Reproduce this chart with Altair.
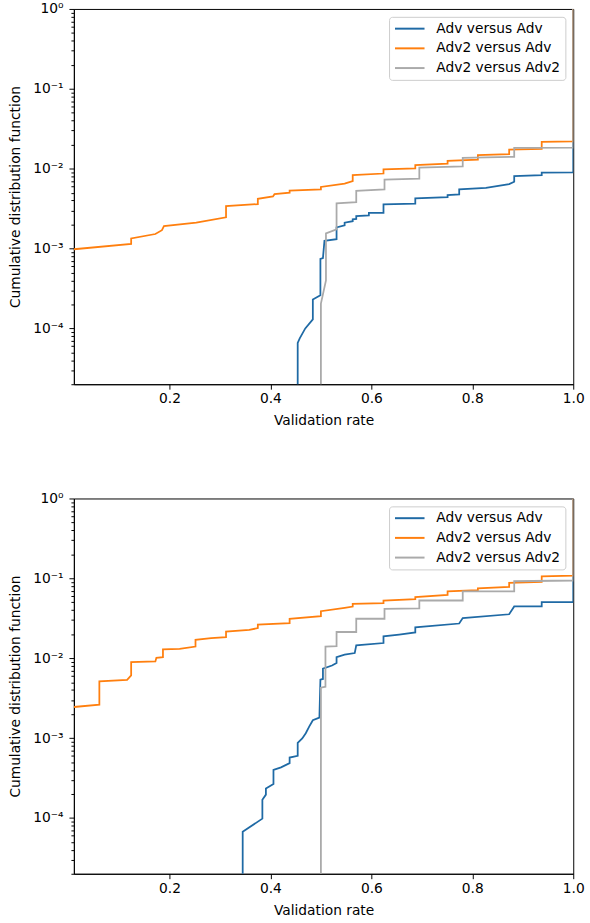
import altair as alt
import pandas as pd

SERIES = ["Adv versus Adv", "Adv2 versus Adv", "Adv2 versus Adv2"]
COLORS = ["#1f6aa5", "#ff7f0e", "#aaaaaa"]

X_TICKS = [0.2, 0.4, 0.6, 0.8, 1.0]
X_DOMAIN = [0.0105, 1.0]
Y_DOMAIN = [2e-5, 1.0]

# ---- top panel ----
TOP_BLUE_X = [0.454, 0.454, 0.458, 0.469, 0.484, 0.484, 0.499, 0.499, 0.504, 0.507, 0.531, 0.531,
              0.547, 0.547, 0.563, 0.563, 0.570, 0.570, 0.595, 0.595, 0.624, 0.624, 0.687, 0.687,
              0.751, 0.751, 0.774, 0.774, 0.827, 0.873, 0.883, 0.883, 0.9375, 0.9375, 1.0, 1.0]
TOP_BLUE_Y = [1e-6, 6.6e-5, 7.5e-5, 1.0e-4, 1.3e-4, 2.3e-4, 2.6e-4, 7.4e-4, 7.6e-4, 1.25e-3, 1.31e-3, 1.84e-3,
              1.95e-3, 2.11e-3, 2.2e-3, 2.32e-3, 2.35e-3, 2.55e-3, 2.6e-3, 2.8e-3, 2.8e-3, 3.57e-3, 3.65e-3, 4.25e-3,
              4.4e-3, 4.67e-3, 4.75e-3, 5.5e-3, 5.75e-3, 6.4e-3, 6.85e-3, 8.05e-3, 8.3e-3, 8.95e-3, 9.0e-3, 1.0]

TOP_ORANGE_X = [0.0105, 0.124, 0.124, 0.172, 0.185, 0.189, 0.253, 0.312, 0.312, 0.375, 0.375, 0.405,
                0.408, 0.438, 0.438, 0.500, 0.500, 0.547, 0.563, 0.563, 0.624, 0.624, 0.687, 0.687,
                0.751, 0.751, 0.811, 0.811, 0.873, 0.873, 0.9375, 0.9375, 1.0, 1.0]
TOP_ORANGE_Y = [9.8e-4, 1.14e-3, 1.34e-3, 1.52e-3, 1.70e-3, 1.91e-3, 2.11e-3, 2.46e-3, 3.40e-3, 3.6e-3, 4.2e-3, 4.5e-3,
                4.8e-3, 5.0e-3, 5.3e-3, 5.5e-3, 5.9e-3, 6.5e-3, 7.0e-3, 8.3e-3, 8.7e-3, 9.8e-3, 1.005e-2, 1.11e-2,
                1.16e-2, 1.25e-2, 1.3e-2, 1.48e-2, 1.52e-2, 1.73e-2, 1.77e-2, 2.16e-2, 2.2e-2, 1.0]

TOP_GRAY_X = [0.500, 0.500, 0.510, 0.510, 0.531, 0.531, 0.570, 0.570, 0.626, 0.626, 0.695, 0.695,
              0.781, 0.781, 0.883, 0.883, 1.0, 1.0]
TOP_GRAY_Y = [1e-6, 2.05e-4, 4.0e-4, 1.55e-3, 1.74e-3, 3.67e-3, 3.81e-3, 5.28e-3, 5.5e-3, 7.3e-3, 7.5e-3, 1.03e-2,
              1.07e-2, 1.37e-2, 1.41e-2, 1.82e-2, 1.84e-2, 1.0]

# ---- bottom panel ----
BOT_BLUE_X = [0.345, 0.345, 0.384, 0.384, 0.391, 0.391, 0.406, 0.406, 0.421, 0.438, 0.438, 0.454,
              0.454, 0.463, 0.470, 0.477, 0.484, 0.497, 0.499, 0.504, 0.504, 0.522, 0.531, 0.531,
              0.547, 0.567, 0.570, 0.624, 0.624, 0.655, 0.687, 0.687, 0.774, 0.781, 0.873, 0.883,
              0.9375, 0.9375, 1.0, 1.0]
BOT_BLUE_Y = [1e-6, 6.7e-5, 9.8e-5, 1.69e-4, 1.96e-4, 2.33e-4, 2.66e-4, 4.0e-4, 4.3e-4, 4.86e-4, 5.7e-4, 6.0e-4,
              8.7e-4, 9.9e-4, 1.15e-3, 1.4e-3, 1.67e-3, 1.8e-3, 5.4e-3, 5.5e-3, 7.4e-3, 8.1e-3, 8.7e-3, 1.03e-2,
              1.11e-2, 1.16e-2, 1.45e-2, 1.55e-2, 1.88e-2, 1.98e-2, 2.1e-2, 2.44e-2, 2.72e-2, 3.18e-2, 3.55e-2, 4.45e-2,
              4.45e-2, 5.05e-2, 5.05e-2, 1.0]

BOT_ORANGE_X = [0.0105, 0.061, 0.061, 0.116, 0.124, 0.124, 0.172, 0.174, 0.187, 0.187, 0.220, 0.2515,
                0.2515, 0.2825, 0.312, 0.312, 0.358, 0.375, 0.375, 0.438, 0.438, 0.500, 0.500, 0.547,
                0.563, 0.563, 0.624, 0.624, 0.687, 0.687, 0.751, 0.751, 0.811, 0.811, 0.873, 0.873,
                0.9375, 0.9375, 1.0, 1.0]
BOT_ORANGE_Y = [2.45e-3, 2.62e-3, 5.12e-3, 5.37e-3, 6.1e-3, 8.95e-3, 9.1e-3, 1.01e-2, 1.03e-2, 1.29e-2, 1.31e-2, 1.40e-2,
                1.70e-2, 1.78e-2, 1.84e-2, 2.16e-2, 2.27e-2, 2.38e-2, 2.64e-2, 2.74e-2, 3.11e-2, 3.36e-2, 3.88e-2, 4.27e-2,
                4.43e-2, 4.78e-2, 4.9e-2, 5.28e-2, 5.5e-2, 5.82e-2, 6.2e-2, 6.86e-2, 7.1e-2, 7.5e-2, 7.8e-2, 8.8e-2,
                9.0e-2, 0.106, 0.108, 1.0]

BOT_GRAY_X = [0.500, 0.500, 0.509, 0.509, 0.531, 0.531, 0.570, 0.570, 0.626, 0.626, 0.695, 0.695,
              0.781, 0.781, 0.883, 0.883, 1.0, 1.0]
BOT_GRAY_Y = [1e-6, 4.27e-3, 4.4e-3, 1.4e-2, 1.42e-2, 2.13e-2, 2.13e-2, 3.12e-2, 3.12e-2, 4.16e-2, 4.2e-2, 5.28e-2,
              5.28e-2, 6.86e-2, 6.86e-2, 9.2e-2, 9.4e-2, 1.0]


def frame(parts):
    rows = []
    for name, xs, ys in parts:
        for i, (x, y) in enumerate(zip(xs, ys)):
            rows.append({"series": name, "x": x, "y": y, "i": i})
    return pd.DataFrame(rows)


top_df = frame([(SERIES[0], TOP_BLUE_X, TOP_BLUE_Y),
                (SERIES[1], TOP_ORANGE_X, TOP_ORANGE_Y),
                (SERIES[2], TOP_GRAY_X, TOP_GRAY_Y)])
bot_df = frame([(SERIES[0], BOT_BLUE_X, BOT_BLUE_Y),
                (SERIES[1], BOT_ORANGE_X, BOT_ORANGE_Y),
                (SERIES[2], BOT_GRAY_X, BOT_GRAY_Y)])

Y_TICKS = [m * 10.0 ** e for e in range(-5, 1) for m in range(1, 10)
           if Y_DOMAIN[0] * 0.999 <= m * 10.0 ** e <= Y_DOMAIN[1] * 1.001]

EXP = "round(log(datum.value)/LN10)"
MAJOR = f"abs(log(datum.value)/LN10 - {EXP}) < 1e-6"
SUPS = {0: "⁰", -1: "⁻¹", -2: "⁻²", -3: "⁻³", -4: "⁻⁴", -5: "⁻⁵"}
label_expr = "''"
for e, s in SUPS.items():
    label_expr = f"({MAJOR} && {EXP} == {e}) ? '10{s}' : " + label_expr

FS = 14


def panel(df):
    return alt.Chart(df).mark_line(strokeWidth=1.8, clip=True).encode(
        x=alt.X("x:Q",
                scale=alt.Scale(domain=X_DOMAIN, nice=False, zero=False),
                axis=alt.Axis(values=X_TICKS, format=".1f", title="Validation rate",
                              labelFlush=False, tickSize=5, labelPadding=3, titlePadding=8)),
        y=alt.Y("y:Q",
                scale=alt.Scale(type="log", domain=Y_DOMAIN, nice=False),
                axis=alt.Axis(values=Y_TICKS, labelExpr=label_expr, labelOverlap=False,
                              tickSize={"condition": {"test": MAJOR, "value": 5}, "value": 3},
                              labelPadding=6, titlePadding=10,
                              title="Cumulative distribution function")),
        color=alt.Color("series:N", scale=alt.Scale(domain=SERIES, range=COLORS),
                        legend=alt.Legend(title=None, orient="top-right", offset=8,
                                          symbolType="M-2.5,0H2.5", symbolStrokeWidth=2, symbolSize=144,
                                          symbolOffset=9,
                                          labelFontSize=FS, labelFont="DejaVu Sans", labelColor="black",
                                          fillColor="white", strokeColor="#cccccc", cornerRadius=3,
                                          padding=5, rowPadding=6, labelOffset=20)),
        order=alt.Order("i:Q"),
    ).properties(width=507, height=381)


chart = alt.vconcat(panel(top_df), panel(bot_df), spacing=63).resolve_legend(
    color="independent"
).properties(
    padding={"left": 8, "top": -6, "right": 5, "bottom": 5},
    background="white",
).configure_view(
    stroke="black", strokeWidth=1
).configure_axis(
    grid=False, domainColor="black", tickColor="black", labelColor="black", titleColor="black",
    labelFont="DejaVu Sans", titleFont="DejaVu Sans", labelFontSize=FS, titleFontSize=FS,
    titleFontWeight="normal", domainWidth=1, tickWidth=1
)

chart.save("out.html", embed_options={"renderer": "svg", "actions": False})
